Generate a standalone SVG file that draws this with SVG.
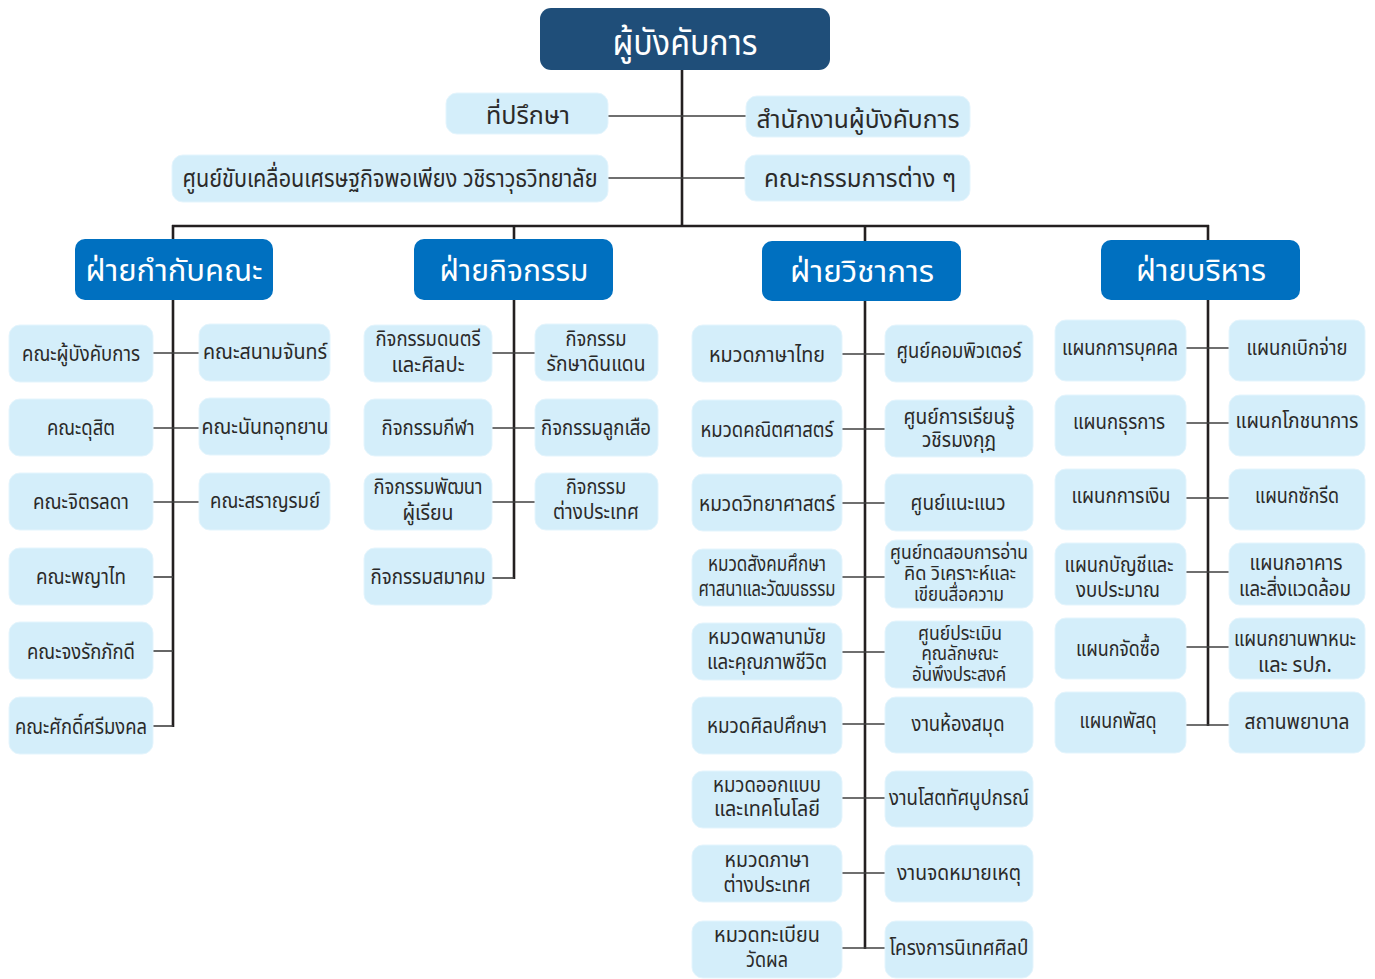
<svg xmlns="http://www.w3.org/2000/svg" width="1375" height="979" viewBox="0 0 1375 979">
<style>
text{font-family:"Noto Sans Thai","Noto Sans","DejaVu Sans",sans-serif;text-anchor:middle;fill:#2b2a29}
.top rect{fill:#1f4e79}
.hd rect{fill:#0070c0}
.nd rect{fill:#d4eefa;stroke:#e4f5fd;stroke-width:1}
.top text{fill:#fff;font-size:36px}
.hd text{fill:#fff;font-size:31px}
.l2 text{font-size:25px}
.s text{font-size:22px}
.d text{font-size:21px}
.t text{font-size:19px}
.trunk line{stroke:#231f20;stroke-width:2.6}
.br line{stroke:#3f3f3f;stroke-width:1.6}
</style>
<rect width="1375" height="979" fill="#fff"/>
<g id="connectors">
<g class="trunk">
<line x1="682" y1="70" x2="682" y2="227"/>
<line x1="172" y1="226" x2="1209" y2="226"/>
<line x1="173" y1="225" x2="173" y2="239"/>
<line x1="514" y1="225" x2="514" y2="239"/>
<line x1="865" y1="225" x2="865" y2="241"/>
<line x1="1208" y1="225" x2="1208" y2="240"/>
<line x1="173" y1="300" x2="173" y2="727"/>
<line x1="514" y1="300" x2="514" y2="579"/>
<line x1="865" y1="301" x2="865" y2="949"/>
<line x1="1208" y1="300" x2="1208" y2="726"/>
</g>
<g class="br">
<line x1="608" y1="116" x2="746" y2="116"/>
<line x1="608" y1="178" x2="745" y2="178"/>
<line x1="153" y1="353" x2="199" y2="353"/>
<line x1="153" y1="428" x2="199" y2="428"/>
<line x1="153" y1="502" x2="199" y2="502"/>
<line x1="153" y1="577" x2="173" y2="577"/>
<line x1="153" y1="651" x2="173" y2="651"/>
<line x1="153" y1="726" x2="173" y2="726"/>
<line x1="492" y1="353" x2="535" y2="353"/>
<line x1="492" y1="428" x2="535" y2="428"/>
<line x1="492" y1="502" x2="535" y2="502"/>
<line x1="492" y1="578" x2="514" y2="578"/>
<line x1="842" y1="354" x2="885" y2="354"/>
<line x1="842" y1="429" x2="885" y2="429"/>
<line x1="842" y1="503" x2="885" y2="503"/>
<line x1="842" y1="577" x2="885" y2="577"/>
<line x1="842" y1="652" x2="885" y2="652"/>
<line x1="842" y1="724" x2="885" y2="724"/>
<line x1="842" y1="798" x2="885" y2="798"/>
<line x1="842" y1="873" x2="885" y2="873"/>
<line x1="842" y1="948" x2="885" y2="948"/>
<line x1="1186" y1="348" x2="1229" y2="348"/>
<line x1="1186" y1="423" x2="1229" y2="423"/>
<line x1="1186" y1="498" x2="1229" y2="498"/>
<line x1="1186" y1="572" x2="1229" y2="572"/>
<line x1="1186" y1="647" x2="1229" y2="647"/>
<line x1="1186" y1="725" x2="1229" y2="725"/>
</g>
</g>

<g id="n-commander" class="top"><rect x="540" y="8" width="290" height="62" rx="11"/><text x="685" y="55" textLength="145" lengthAdjust="spacingAndGlyphs">ผู้บังคับการ</text></g>

<g id="n-advisor" class="nd l2"><rect x="446" y="93" width="162" height="41" rx="11"/><text x="528" y="124" textLength="84" lengthAdjust="spacingAndGlyphs">ที่ปรึกษา</text></g>
<g id="n-office" class="nd l2"><rect x="746" y="96" width="224" height="41" rx="11"/><text x="858" y="128" textLength="203" lengthAdjust="spacingAndGlyphs">สำนักงานผู้บังคับการ</text></g>
<g id="n-sufficiency" class="nd l2"><rect x="172" y="155" width="436" height="47" rx="11"/><text x="390" y="187" textLength="415" lengthAdjust="spacingAndGlyphs">ศูนย์ขับเคลื่อนเศรษฐกิจพอเพียง วชิราวุธวิทยาลัย</text></g>
<g id="n-committees" class="nd l2"><rect x="745" y="155" width="225" height="46" rx="11"/><text x="860" y="187" textLength="192" lengthAdjust="spacingAndGlyphs">คณะกรรมการต่าง ๆ</text></g>

<g id="h-houses" class="hd"><rect x="75" y="239" width="198" height="61" rx="10"/><text x="174" y="281" textLength="177" lengthAdjust="spacingAndGlyphs">ฝ่ายกำกับคณะ</text></g>
<g id="h-activities" class="hd"><rect x="414" y="239" width="199" height="61" rx="10"/><text x="514" y="281" textLength="149" lengthAdjust="spacingAndGlyphs">ฝ่ายกิจกรรม</text></g>
<g id="h-academic" class="hd"><rect x="762" y="241" width="199" height="60" rx="10"/><text x="862" y="282" textLength="144" lengthAdjust="spacingAndGlyphs">ฝ่ายวิชาการ</text></g>
<g id="h-admin" class="hd"><rect x="1101" y="240" width="199" height="60" rx="10"/><text x="1201" y="281" textLength="130" lengthAdjust="spacingAndGlyphs">ฝ่ายบริหาร</text></g>

<g id="c1-1" class="nd s"><rect x="9" y="325" width="144" height="57" rx="11"/><text x="81" y="361" textLength="118" lengthAdjust="spacingAndGlyphs">คณะผู้บังคับการ</text></g>
<g id="c1-2" class="nd s"><rect x="9" y="399" width="144" height="57" rx="11"/><text x="81" y="435" textLength="68" lengthAdjust="spacingAndGlyphs">คณะดุสิต</text></g>
<g id="c1-3" class="nd s"><rect x="9" y="473" width="144" height="57" rx="11"/><text x="81" y="509" textLength="96" lengthAdjust="spacingAndGlyphs">คณะจิตรลดา</text></g>
<g id="c1-4" class="nd s"><rect x="9" y="548" width="144" height="57" rx="11"/><text x="81" y="584" textLength="90" lengthAdjust="spacingAndGlyphs">คณะพญาไท</text></g>
<g id="c1-5" class="nd s"><rect x="9" y="622" width="144" height="57" rx="11"/><text x="81" y="659" textLength="108" lengthAdjust="spacingAndGlyphs">คณะจงรักภักดี</text></g>
<g id="c1-6" class="nd s"><rect x="9" y="697" width="144" height="57" rx="11"/><text x="81" y="734" textLength="132" lengthAdjust="spacingAndGlyphs">คณะศักดิ์ศรีมงคล</text></g>
<g id="c1-7" class="nd s"><rect x="199" y="324" width="131" height="57" rx="11"/><text x="265" y="359" textLength="124" lengthAdjust="spacingAndGlyphs">คณะสนามจันทร์</text></g>
<g id="c1-8" class="nd s"><rect x="199" y="398" width="131" height="57" rx="11"/><text x="265" y="434" textLength="127" lengthAdjust="spacingAndGlyphs">คณะนันทอุทยาน</text></g>
<g id="c1-9" class="nd s"><rect x="199" y="473" width="131" height="57" rx="11"/><text x="265" y="508" textLength="110" lengthAdjust="spacingAndGlyphs">คณะสราญรมย์</text></g>

<g id="c2-1" class="nd d"><rect x="364" y="325" width="128" height="57" rx="11"/><text x="428" y="346" textLength="105" lengthAdjust="spacingAndGlyphs">กิจกรรมดนตรี</text><text x="428" y="372" textLength="73" lengthAdjust="spacingAndGlyphs">และศิลปะ</text></g>
<g id="c2-2" class="nd s"><rect x="364" y="399" width="128" height="57" rx="11"/><text x="428" y="435" textLength="93" lengthAdjust="spacingAndGlyphs">กิจกรรมกีฬา</text></g>
<g id="c2-3" class="nd d"><rect x="364" y="473" width="128" height="57" rx="11"/><text x="428" y="494" textLength="109" lengthAdjust="spacingAndGlyphs">กิจกรรมพัฒนา</text><text x="428" y="520" textLength="51" lengthAdjust="spacingAndGlyphs">ผู้เรียน</text></g>
<g id="c2-4" class="nd s"><rect x="364" y="548" width="128" height="57" rx="11"/><text x="428" y="584" textLength="115" lengthAdjust="spacingAndGlyphs">กิจกรรมสมาคม</text></g>
<g id="c2-5" class="nd d"><rect x="535" y="324" width="123" height="57" rx="11"/><text x="596" y="346" textLength="61" lengthAdjust="spacingAndGlyphs">กิจกรรม</text><text x="596" y="371" textLength="99" lengthAdjust="spacingAndGlyphs">รักษาดินแดน</text></g>
<g id="c2-6" class="nd s"><rect x="535" y="399" width="123" height="57" rx="11"/><text x="596" y="435" textLength="110" lengthAdjust="spacingAndGlyphs">กิจกรรมลูกเสือ</text></g>
<g id="c2-7" class="nd d"><rect x="535" y="473" width="123" height="57" rx="11"/><text x="596" y="494" textLength="60" lengthAdjust="spacingAndGlyphs">กิจกรรม</text><text x="596" y="519" textLength="86" lengthAdjust="spacingAndGlyphs">ต่างประเทศ</text></g>

<g id="c3-1" class="nd s"><rect x="692" y="325" width="150" height="57" rx="11"/><text x="767" y="362" textLength="116" lengthAdjust="spacingAndGlyphs">หมวดภาษาไทย</text></g>
<g id="c3-2" class="nd s"><rect x="692" y="400" width="150" height="57" rx="11"/><text x="767" y="437" textLength="133" lengthAdjust="spacingAndGlyphs">หมวดคณิตศาสตร์</text></g>
<g id="c3-3" class="nd s"><rect x="692" y="474" width="150" height="57" rx="11"/><text x="767" y="511" textLength="136" lengthAdjust="spacingAndGlyphs">หมวดวิทยาศาสตร์</text></g>
<g id="c3-4" class="nd d"><rect x="692" y="549" width="150" height="57" rx="11"/><text x="767" y="571" textLength="118" lengthAdjust="spacingAndGlyphs">หมวดสังคมศึกษา</text><text x="767" y="596" textLength="137" lengthAdjust="spacingAndGlyphs">ศาสนาและวัฒนธรรม</text></g>
<g id="c3-5" class="nd d"><rect x="692" y="623" width="150" height="57" rx="11"/><text x="767" y="644" textLength="118" lengthAdjust="spacingAndGlyphs">หมวดพลานามัย</text><text x="767" y="669" textLength="120" lengthAdjust="spacingAndGlyphs">และคุณภาพชีวิต</text></g>
<g id="c3-6" class="nd s"><rect x="692" y="697" width="150" height="57" rx="11"/><text x="767" y="733" textLength="120" lengthAdjust="spacingAndGlyphs">หมวดศิลปศึกษา</text></g>
<g id="c3-7" class="nd d"><rect x="692" y="771" width="150" height="57" rx="11"/><text x="767" y="792" textLength="108" lengthAdjust="spacingAndGlyphs">หมวดออกแบบ</text><text x="767" y="816" textLength="106" lengthAdjust="spacingAndGlyphs">และเทคโนโลยี</text></g>
<g id="c3-8" class="nd d"><rect x="692" y="845" width="150" height="57" rx="11"/><text x="767" y="867" textLength="85" lengthAdjust="spacingAndGlyphs">หมวดภาษา</text><text x="767" y="892" textLength="87" lengthAdjust="spacingAndGlyphs">ต่างประเทศ</text></g>
<g id="c3-9" class="nd d"><rect x="692" y="921" width="150" height="57" rx="11"/><text x="767" y="942" textLength="106" lengthAdjust="spacingAndGlyphs">หมวดทะเบียน</text><text x="767" y="967" textLength="42" lengthAdjust="spacingAndGlyphs">วัดผล</text></g>
<g id="c3-10" class="nd s"><rect x="885" y="325" width="148" height="57" rx="11"/><text x="959" y="358" textLength="125" lengthAdjust="spacingAndGlyphs">ศูนย์คอมพิวเตอร์</text></g>
<g id="c3-11" class="nd d"><rect x="885" y="400" width="148" height="57" rx="11"/><text x="959" y="424" textLength="111" lengthAdjust="spacingAndGlyphs">ศูนย์การเรียนรู้</text><text x="959" y="447" textLength="74" lengthAdjust="spacingAndGlyphs">วชิรมงกุฎ</text></g>
<g id="c3-12" class="nd s"><rect x="885" y="474" width="148" height="57" rx="11"/><text x="958" y="510" textLength="95" lengthAdjust="spacingAndGlyphs">ศูนย์แนะแนว</text></g>
<g id="c3-13" class="nd t"><rect x="885" y="540" width="148" height="68" rx="11"/><text x="959" y="559" textLength="138" lengthAdjust="spacingAndGlyphs">ศูนย์ทดสอบการอ่าน</text><text x="960" y="580" textLength="112" lengthAdjust="spacingAndGlyphs">คิด วิเคราะห์และ</text><text x="959" y="601" textLength="90" lengthAdjust="spacingAndGlyphs">เขียนสื่อความ</text></g>
<g id="c3-14" class="nd t"><rect x="885" y="621" width="148" height="67" rx="11"/><text x="960" y="640" textLength="84" lengthAdjust="spacingAndGlyphs">ศูนย์ประเมิน</text><text x="960" y="660" textLength="77" lengthAdjust="spacingAndGlyphs">คุณลักษณะ</text><text x="959" y="681" textLength="94" lengthAdjust="spacingAndGlyphs">อันพึงประสงค์</text></g>
<g id="c3-15" class="nd s"><rect x="885" y="697" width="148" height="56" rx="11"/><text x="958" y="731" textLength="93" lengthAdjust="spacingAndGlyphs">งานห้องสมุด</text></g>
<g id="c3-16" class="nd s"><rect x="885" y="771" width="148" height="56" rx="11"/><text x="959" y="805" textLength="140" lengthAdjust="spacingAndGlyphs">งานโสตทัศนูปกรณ์</text></g>
<g id="c3-17" class="nd s"><rect x="885" y="845" width="148" height="57" rx="11"/><text x="959" y="880" textLength="124" lengthAdjust="spacingAndGlyphs">งานจดหมายเหตุ</text></g>
<g id="c3-18" class="nd s"><rect x="885" y="921" width="148" height="57" rx="11"/><text x="959" y="955" textLength="139" lengthAdjust="spacingAndGlyphs">โครงการนิเทศศิลป์</text></g>

<g id="c4-1" class="nd s"><rect x="1055" y="320" width="131" height="61" rx="11"/><text x="1120" y="355" textLength="116" lengthAdjust="spacingAndGlyphs">แผนกการบุคคล</text></g>
<g id="c4-2" class="nd s"><rect x="1055" y="395" width="131" height="61" rx="11"/><text x="1119" y="429" textLength="92" lengthAdjust="spacingAndGlyphs">แผนกธุรการ</text></g>
<g id="c4-3" class="nd s"><rect x="1055" y="469" width="131" height="61" rx="11"/><text x="1121" y="503" textLength="99" lengthAdjust="spacingAndGlyphs">แผนกการเงิน</text></g>
<g id="c4-4" class="nd d"><rect x="1055" y="543" width="131" height="62" rx="11"/><text x="1119" y="572" textLength="109" lengthAdjust="spacingAndGlyphs">แผนกบัญชีและ</text><text x="1118" y="597" textLength="84" lengthAdjust="spacingAndGlyphs">งบประมาณ</text></g>
<g id="c4-5" class="nd s"><rect x="1055" y="618" width="131" height="61" rx="11"/><text x="1118" y="656" textLength="84" lengthAdjust="spacingAndGlyphs">แผนกจัดซื้อ</text></g>
<g id="c4-6" class="nd s"><rect x="1055" y="692" width="131" height="61" rx="11"/><text x="1118" y="728" textLength="77" lengthAdjust="spacingAndGlyphs">แผนกพัสดุ</text></g>
<g id="c4-7" class="nd s"><rect x="1229" y="320" width="136" height="61" rx="11"/><text x="1297" y="355" textLength="101" lengthAdjust="spacingAndGlyphs">แผนกเบิกจ่าย</text></g>
<g id="c4-8" class="nd s"><rect x="1229" y="395" width="136" height="61" rx="11"/><text x="1297" y="428" textLength="123" lengthAdjust="spacingAndGlyphs">แผนกโภชนาการ</text></g>
<g id="c4-9" class="nd s"><rect x="1229" y="469" width="136" height="61" rx="11"/><text x="1297" y="503" textLength="84" lengthAdjust="spacingAndGlyphs">แผนกซักรีด</text></g>
<g id="c4-10" class="nd d"><rect x="1229" y="543" width="136" height="62" rx="11"/><text x="1296" y="570" textLength="93" lengthAdjust="spacingAndGlyphs">แผนกอาคาร</text><text x="1295" y="596" textLength="112" lengthAdjust="spacingAndGlyphs">และสิ่งแวดล้อม</text></g>
<g id="c4-11" class="nd d"><rect x="1229" y="618" width="136" height="61" rx="11"/><text x="1295" y="646" textLength="122" lengthAdjust="spacingAndGlyphs">แผนกยานพาหนะ</text><text x="1295" y="672" textLength="74" lengthAdjust="spacingAndGlyphs">และ รปภ.</text></g>
<g id="c4-12" class="nd s"><rect x="1229" y="692" width="136" height="61" rx="11"/><text x="1297" y="729" textLength="105" lengthAdjust="spacingAndGlyphs">สถานพยาบาล</text></g>
</svg>
